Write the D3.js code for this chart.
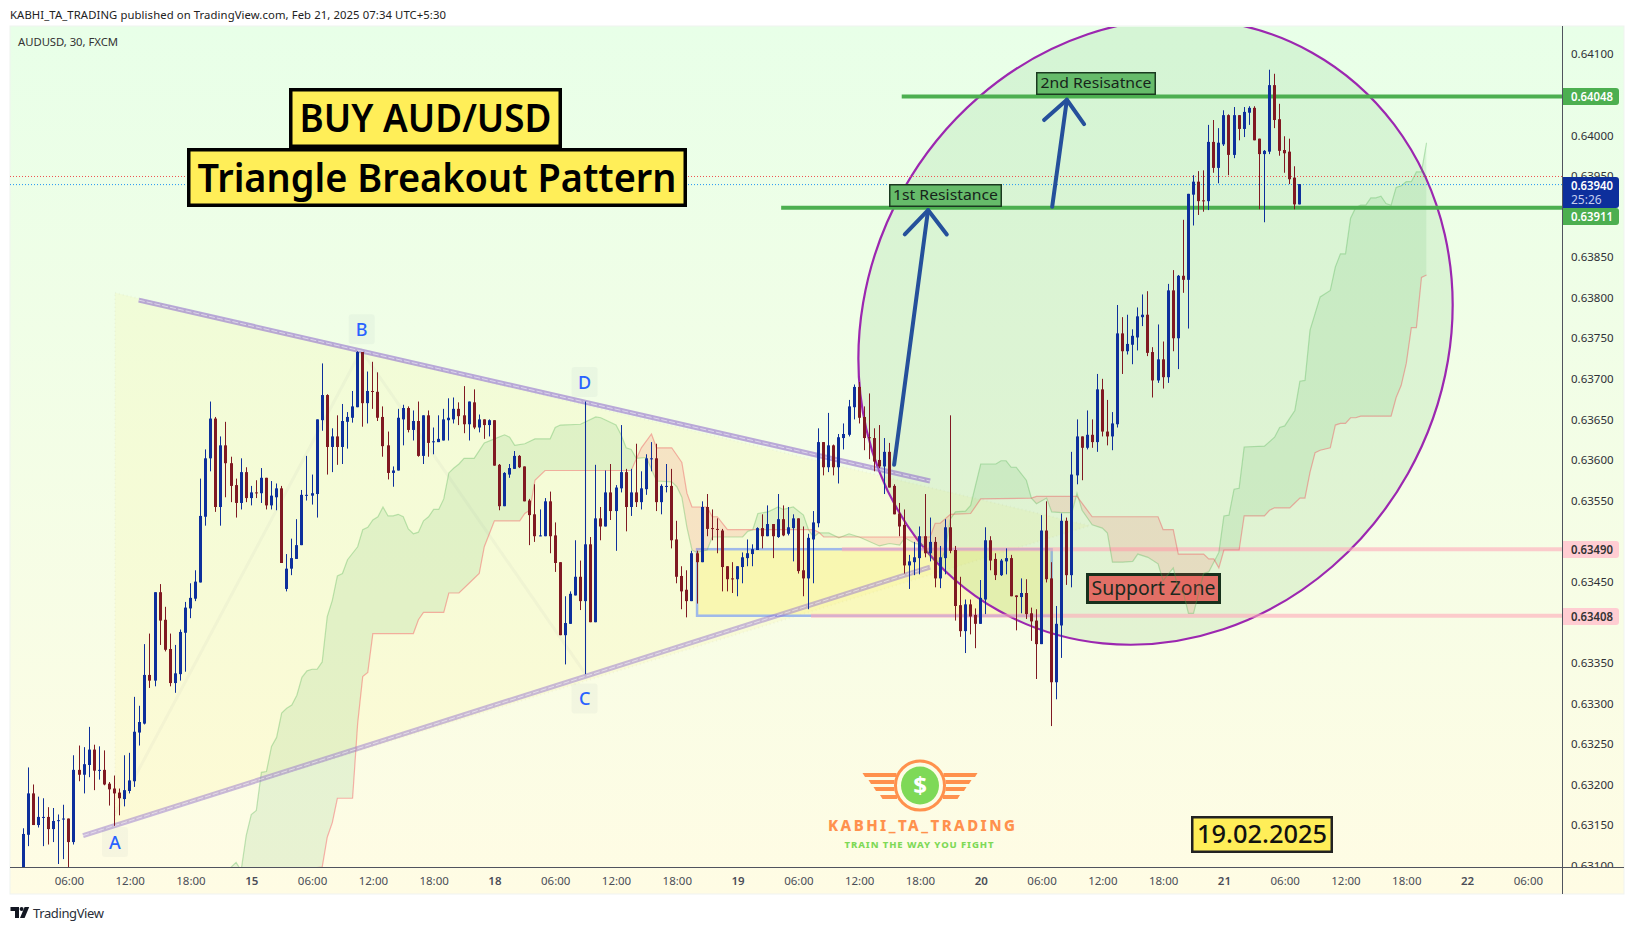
<!DOCTYPE html>
<html><head><meta charset="utf-8">
<style>
html,body{margin:0;padding:0;background:#fff;overflow:hidden}
svg{display:block}
text{font-family:"Noto Sans","Open Sans",sans-serif}
</style>
<script src="https://cdn.jsdelivr.net/npm/d3@7"></script>
</head><body>
<svg id="c" width="1634" height="931"></svg>
<script>
// Prices are in points of 0.00001 (63940 = 0.63940); bars are 30-minute candles numbered from the left.
const opens=[63090,63138,63189,63150,63159,63160,63145,63155,63157,63158,
63129,63218,63212,63224,63243,63217,63218,63201,63195,63190,
63182,63192,63204,63264,63275,63335,63328,63437,63403,63367,
63325,63336,63387,63417,63429,63449,63530,63602,63651,63542,
63618,63596,63569,63547,63585,63553,63560,63559,63578,63544,
63554,63565,63441,63466,63478,63495,63556,63556,63558,63649,
63680,63616,63629,63616,63647,63652,63665,63733,63670,63685,
63684,63653,63618,63584,63587,63650,63664,63637,63648,63605,
63655,63622,63622,63624,63649,63650,63663,63655,63644,63671,
63640,63650,63643,63649,63594,63543,63582,63589,63605,63592,
63550,63533,63506,63506,63549,63507,63474,63384,63398,63433,
63456,63426,63496,63400,63528,63518,63560,63537,63565,63585,
63542,63560,63548,63564,63601,63602,63548,63567,63568,63502,
63457,63440,63426,63485,63474,63542,63516,63515,63513,63469,
63454,63453,63468,63479,63484,63489,63516,63506,63521,63505,
63527,63509,63516,63528,63464,63454,63502,63522,63622,63591,
63618,63591,63627,63631,63665,63690,63653,63628,63627,63600,
63592,63610,63568,63534,63520,63470,63474,63479,63506,63485,
63499,63454,63479,63517,63489,63421,63389,63422,63409,63398,
63428,63501,63478,63458,63475,63479,63433,63431,63436,63411,
63402,63373,63513,63454,63326,63396,63525,63458,63581,63629,
63615,63631,63622,63687,63635,63629,63644,63756,63734,63742,
63751,63776,63779,63733,63698,63724,63702,63809,63750,63827,
63822,63927,63943,63920,63919,63992,63960,63989,64025,63976,
64025,64008,64028,64034,63996,63977,63980,64062,64020,63982,
63980,63948,63915];
const highs=[63146,63221,63200,63185,63183,63172,63171,63163,63175,63158,
63236,63248,63246,63271,63249,63247,63242,63203,63211,63195,
63236,63239,63308,63297,63373,63386,63437,63447,63419,63386,
63372,63391,63425,63448,63464,63577,63613,63672,63653,63629,
63647,63604,63577,63602,63591,63568,63575,63590,63578,63574,
63571,63568,63484,63503,63527,63563,63605,63582,63650,63719,
63681,63639,63655,63669,63659,63685,63734,63733,63709,63721,
63708,63666,63635,63592,63663,63668,63666,63661,63672,63655,
63661,63640,63655,63663,63676,63677,63671,63691,63672,63687,
63656,63650,63650,63649,63595,63585,63595,63611,63606,63592,
63552,63570,63539,63553,63561,63523,63474,63432,63438,63501,
63476,63672,63505,63594,63542,63587,63595,63569,63643,63589,
63589,63620,63586,63607,63622,63620,63570,63595,63589,63525,
63469,63464,63488,63488,63549,63558,63539,63528,63515,63469,
63474,63469,63486,63502,63496,63517,63533,63544,63521,63558,
63544,63542,63533,63528,63518,63509,63537,63639,63622,63658,
63619,63632,63645,63674,63693,63696,63666,63682,63639,63643,
63627,63621,63570,63547,63539,63483,63499,63518,63558,63529,
63505,63494,63527,63655,63494,63456,63428,63428,63417,63452,
63517,63506,63485,63478,63491,63483,63433,63454,63453,63418,
63416,63532,63549,63474,63420,63534,63529,63610,63650,63629,
63661,63650,63706,63700,63674,63659,63791,63776,63779,63761,
63788,63804,63808,63739,63767,63746,63817,63834,63828,63896,
63928,63951,63956,63957,64013,64019,64009,64031,64026,64035,
64025,64035,64036,64036,63996,63982,64081,64076,64039,63999,
63996,63962,63940];
const lows=[63080,63124,63150,63147,63124,63126,63129,63102,63108,63094,
63126,63204,63189,63209,63193,63206,63199,63174,63149,63162,
63173,63189,63197,63248,63274,63319,63321,63372,63364,63321,
63313,63328,63339,63405,63426,63449,63519,63586,63536,63519,
63554,63548,63529,63539,63548,63544,63553,63547,63539,63539,
63538,63473,63438,63458,63478,63495,63550,63545,63529,63636,
63582,63585,63594,63595,63614,63646,63665,63641,63645,63663,
63648,63604,63576,63567,63587,63618,63634,63624,63604,63595,
63604,63607,63622,63624,63624,63645,63643,63633,63624,63638,
63634,63626,63629,63593,63538,63543,63578,63589,63590,63549,
63495,63499,63506,63506,63485,63462,63384,63348,63398,63433,
63415,63336,63400,63400,63501,63518,63526,63488,63560,63512,
63531,63542,63539,63557,63586,63537,63533,63560,63491,63448,
63416,63406,63426,63423,63474,63506,63501,63485,63438,63438,
63436,63432,63448,63469,63469,63489,63491,63506,63479,63504,
63506,63507,63475,63460,63432,63416,63448,63517,63581,63585,
63581,63571,63613,63629,63650,63645,63612,63601,63586,63590,
63558,63566,63533,63506,63460,63441,63458,63459,63480,63475,
63443,63442,63459,63485,63402,63382,63362,63385,63368,63398,
63410,63464,63452,63457,63459,63432,63390,63411,63404,63377,
63330,63373,63449,63272,63305,63356,63446,63443,63570,63575,
63613,63615,63610,63629,63618,63612,63640,63706,63730,63718,
63735,63765,63728,63677,63695,63688,63695,63734,63712,63806,
63762,63889,63902,63906,63908,63954,63941,63987,63951,63972,
63994,63998,64013,63994,63909,63893,63977,64009,63975,63954,
63940,63909,63915];
const closes=[63139,63189,63150,63160,63160,63145,63155,63156,63158,63129,
63218,63212,63225,63243,63217,63218,63200,63194,63189,63183,
63193,63205,63265,63277,63335,63328,63437,63402,63366,63325,
63337,63388,63418,63430,63450,63531,63602,63651,63542,63618,
63596,63568,63547,63585,63553,63560,63559,63578,63544,63556,
63565,63473,63466,63479,63495,63557,63557,63559,63650,63680,
63616,63629,63616,63648,63653,63666,63733,63670,63685,63684,
63652,63617,63584,63587,63652,63664,63637,63648,63605,63655,
63621,63623,63626,63650,63652,63663,63654,63644,63672,63640,
63650,63643,63649,63593,63543,63584,63590,63605,63591,63549,
63532,63506,63507,63549,63506,63473,63384,63399,63435,63456,
63426,63496,63400,63528,63518,63560,63537,63566,63585,63542,
63560,63548,63565,63602,63602,63548,63568,63568,63501,63456,
63438,63426,63485,63474,63542,63515,63515,63514,63468,63453,
63453,63469,63480,63485,63490,63516,63506,63521,63506,63527,
63507,63517,63528,63463,63454,63504,63523,63622,63591,63618,
63591,63628,63632,63666,63690,63652,63627,63627,63598,63592,
63610,63566,63533,63518,63470,63475,63480,63506,63485,63499,
63454,63480,63517,63488,63420,63389,63422,63407,63398,63430,
63501,63476,63458,63476,63479,63432,63431,63436,63410,63401,
63373,63513,63453,63326,63398,63525,63458,63582,63629,63615,
63631,63622,63687,63635,63629,63645,63756,63734,63743,63753,
63777,63779,63732,63698,63724,63702,63809,63750,63827,63822,
63928,63943,63919,63919,63992,63960,63991,64025,63976,64025,
64008,64029,64034,63994,63977,63981,64062,64019,63981,63978,
63946,63915,63940];

// Ichimoku-style cloud spans: bar number / price pairs
const spanABars=[41,42,43,44,45,46,47,48,49,50,51,52,53,54,55,56,57,58,59,60,61,62,63,64,65,66,67,68,69,70,71,72,73,74,75,76,77,78,79,80,81,82,83,84,85,86,87,89,91,93,95,96,97,99,101,102,104,105,106,110,113,114,117,118,119,120,121,123,125,128,129,130,131,132,133,135,136,142,143,144,145,147,149,150,152,154,155,156,157,159,161,163,165,169,171,173,174,176,178,179,181,182,183,184,186,187,189,192,193,194,195,196,198,199,200,202,203,205,207,208,209,211,213,214,215,217,219,220,222,224,225,227,228,229,230,231,233,234,236,237,238,239,240,241,245,247,248,249,251,252,253,254,256,258,259,260,261,262,263,264,265,266,267,268,269,270,271,272,273,274,275,276,277];
const spanAPrices=[63098,63104,63094,63137,63163,63168,63215,63216,63247,63258,63288,63294,63298,63310,63332,63340,63342,63342,63351,63407,63427,63457,63460,63477,63485,63493,63514,63517,63526,63530,63542,63531,63531,63533,63530,63515,63509,63511,63525,63530,63539,63539,63552,63584,63590,63595,63602,63602,63621,63626,63631,63628,63618,63620,63626,63626,63626,63640,63643,63644,63653,63652,63643,63631,63615,63613,63602,63603,63574,63573,63567,63554,63517,63489,63486,63489,63505,63505,63512,63514,63534,63536,63542,63539,63542,63532,63514,63505,63510,63510,63504,63509,63505,63494,63497,63495,63504,63497,63495,63480,63474,63489,63527,63536,63537,63544,63595,63595,63599,63599,63591,63591,63575,63553,63546,63553,63536,63535,63535,63559,63538,63520,63516,63510,63474,63474,63475,63484,63480,63472,63451,63467,63440,63436,63411,63411,63460,63462,63486,63531,63532,63564,63565,63616,63617,63628,63640,63642,63661,63697,63698,63760,63801,63809,63838,63854,63854,63898,63911,63914,63914,63923,63923,63925,63916,63914,63936,63938,63943,63943,63955,63955,63991];
const spanBBars=[41,59,60,61,62,65,66,67,68,69,77,78,79,83,84,86,88,90,91,93,98,99,100,101,103,120,122,124,125,128,130,131,132,135,136,137,139,156,157,158,179,180,181,183,187,189,199,200,208,211,224,225,227,228,233,234,235,236,237,240,241,245,246,247,250,251,252,253,254,255,256,258,259,260,261,262,263,264,270,271,272,273,274,275,276,277];
const spanBPrices=[63090,63098,63135,63153,63183,63183,63275,63333,63338,63386,63386,63403,63412,63412,63436,63436,63448,63460,63493,63525,63525,63534,63538,63575,63587,63587,63615,63632,63615,63615,63597,63559,63542,63542,63530,63530,63514,63514,63511,63505,63505,63522,63522,63533,63534,63552,63553,63555,63555,63530,63530,63514,63514,63484,63484,63478,63478,63467,63489,63489,63531,63531,63538,63541,63541,63547,63553,63553,63585,63609,63612,63615,63643,63645,63645,63652,63652,63654,63654,63677,63692,63719,63763,63763,63825,63828];

// Axis labels (levels under a price tag are not shown)
const priceTicks=[63100,63150,63200,63250,63300,63350,63450,63550,63600,63650,63700,63750,63800,63850,63950,64000,64100];
const timeTickBars=[9,21,33,45,57,69,81,93,105,117,129,141,153,165,177,189,201,213,225,237,249,261,273,285,297];
const timeTickLabels=["06:00","12:00","18:00","15","06:00","12:00","18:00","18","06:00","12:00","18:00","19","06:00","12:00","18:00","20","06:00","12:00","18:00","21","06:00","12:00","18:00","22","06:00"];

// Drawn levels: price / first bar
const greenLevels=[64048,63911];
const greenLevelStart=[173.4,149.6];
const pinkLevels=[63490,63408];
const pinkLevelStart=[161.6,155.5];
const lastPrice=63940, prePrice=63950;
// Trend lines: [bar, price] end points
const upperTrend=[[22.8,63797],[179,63574]];
const lowerTrend=[[11.8,63137],[179,63468]];
const triangleZone=[[18.1,63806],[210.5,63519],[18.1,63149]];
const abcdPath=[[18,63162],[66.7,63735],[111,63336],[111,63672]];
const abcdLetters=["A","B","C","D"];
const abcdLetterBars=[18.1,66.8,110.8,110.8];
const abcdLetterPrices=[63129,63761,63306,63696];
const arrowShafts=[[[171.9,63594],[178.6,63908]],[[203.1,63912],[206,64044]]];
const arrowHeads=[[[174,63878],[178.6,63908],[182.3,63878]],[[201.5,64019],[206,64044],[209.4,64014]]];
const zoneBars=[133,203];
const ellipseCentre=[223.5,63758];

const W=1634,H=931;
const paneL=10,paneR=1562,paneT=27,paneB=867,outerR=1624,outerB=894;
const x=d3.scaleLinear().domain([0,252]).range([23.3,1299.9]);
const y=d3.scaleLinear().domain([63100,64100]).range([865.6,54.3]);
const svg=d3.select("#c");
const defs=svg.append("defs");

const grad=defs.append("linearGradient").attr("id","bg").attr("x1",0).attr("y1",0).attr("x2",0).attr("y2",1);
grad.append("stop").attr("offset",0).attr("stop-color","#e8ffe8");
grad.append("stop").attr("offset",1).attr("stop-color","#fffce4");
defs.append("clipPath").attr("id","pane").append("rect").attr("x",paneL).attr("y",paneT).attr("width",paneR-paneL).attr("height",paneB-paneT);
defs.append("clipPath").attr("id","paxis").append("rect").attr("x",paneR).attr("y",paneT).attr("width",outerR-paneR).attr("height",paneB-paneT);

svg.append("rect").attr("width",W).attr("height",H).attr("fill","#fff");
svg.append("rect").attr("x",paneL).attr("y",paneT-1).attr("width",outerR-paneL).attr("height",outerB-paneT+1).attr("fill","url(#bg)").attr("stroke","#f0f3f0");

const P=svg.append("g").attr("clip-path","url(#pane)");
const pt=d=>[x(d[0]),y(d[1])];
const line=d3.line().x(d=>x(d[0])).y(d=>y(d[1]));

// triangle fill + faint pattern
P.append("path").attr("d",line(triangleZone)+"Z").attr("fill","rgba(255,235,59,.085)").attr("stroke","rgba(190,190,170,.12)").attr("stroke-width",2).attr("stroke-dasharray","1 3");
P.append("path").attr("d",line(abcdPath)).attr("fill","none").attr("stroke","rgba(120,123,134,.05)").attr("stroke-width",3);

// zone rectangle
P.append("rect").attr("x",x(zoneBars[0])).attr("y",y(pinkLevels[0])).attr("width",x(zoneBars[1])-x(zoneBars[0])).attr("height",y(pinkLevels[1])-y(pinkLevels[0]))
 .attr("fill","rgba(255,235,59,.24)").attr("stroke","#9fb9ea").attr("stroke-width",2.5);

// circle
const [cx,cy]=pt(ellipseCentre);
P.append("ellipse").attr("rx",289.5).attr("ry",320).attr("transform",`translate(${cx},${cy}) rotate(29.3)`)
 .attr("fill","rgba(76,175,80,.125)").attr("stroke","#9c27b0").attr("stroke-width",2.2);

// pink levels
pinkLevels.forEach((p,k)=>P.append("line").attr("x1",x(pinkLevelStart[k])).attr("x2",paneR).attr("y1",y(p)).attr("y2",y(p)).attr("stroke","rgba(255,170,185,.6)").attr("stroke-width",4));

// Support Zone box beneath the cloud lines
svg.append("rect").attr("x",1087.5).attr("y",574.5).attr("width",132).attr("height",28).attr("fill","#e26f66").attr("stroke","#17301c").attr("stroke-width",3);
svg.append("text").attr("x",1153.5).attr("y",595).attr("text-anchor","middle").attr("font-size",20).attr("fill","#1b2a20").attr("textLength",124).attr("lengthAdjust","spacingAndGlyphs").text("Support Zone");

// Cloud
const G=svg.append("g").attr("clip-path","url(#pane)");
const fA=d3.scaleLinear().domain(spanABars).range(spanAPrices);
const fB=d3.scaleLinear().domain(spanBBars).range(spanBPrices);
const grid=d3.range(41,278);
const cloud=d3.area().x(i=>x(i)).y0(i=>y(fB(i))).y1(i=>y(fA(i)));
defs.append("clipPath").attr("id","aboveB").append("path").attr("d",d3.area().x(i=>x(i)).y0(i=>y(fB(i))).y1(0)(grid));
defs.append("clipPath").attr("id","belowB").append("path").attr("d",d3.area().x(i=>x(i)).y0(i=>y(fB(i))).y1(H)(grid));
G.append("path").attr("d",cloud(grid)).attr("clip-path","url(#aboveB)").attr("fill","rgba(76,175,80,.12)");
G.append("path").attr("d",cloud(grid)).attr("clip-path","url(#belowB)").attr("fill","rgba(255,82,82,.14)");
G.append("path").attr("d",line(spanABars.map((b,k)=>[b,spanAPrices[k]]))).attr("fill","none").attr("stroke","rgba(76,175,80,.33)").attr("stroke-width",1.2);
G.append("path").attr("d",line(spanBBars.map((b,k)=>[b,spanBPrices[k]]))).attr("fill","none").attr("stroke","rgba(242,54,69,.36)").attr("stroke-width",1.2);

// Trend lines
const T=svg.append("g").attr("clip-path","url(#pane)");
[upperTrend,lowerTrend].forEach((t,k)=>{
  T.append("path").attr("d",line(t)).attr("stroke",k?"rgba(149,117,205,.5)":"rgba(149,117,205,.62)").attr("stroke-width",5).attr("fill","none");
  T.append("path").attr("d",line(t)).attr("stroke","rgba(255,255,255,.5)").attr("stroke-width",1).attr("stroke-dasharray","6 2").attr("fill","none");
});

// Dotted price lines
T.append("line").attr("x1",paneL).attr("x2",paneR).attr("y1",y(prePrice)+.5).attr("y2",y(prePrice)+.5).attr("stroke","#ef5350").attr("stroke-dasharray","1 2");
T.append("line").attr("x1",paneL).attr("x2",paneR).attr("y1",y(lastPrice)+.5).attr("y2",y(lastPrice)+.5).attr("stroke","#2196f3").attr("stroke-dasharray","1 2");

// Green levels
greenLevels.forEach((p,k)=>T.append("line").attr("x1",x(greenLevelStart[k])).attr("x2",paneR).attr("y1",y(p)).attr("y2",y(p)).attr("stroke","#4caf50").attr("stroke-width",4));

// Arrows
arrowShafts.forEach(s=>T.append("path").attr("d",line(s)).attr("stroke","#25509b").attr("stroke-width",4).attr("stroke-linecap","round").attr("fill","none"));
arrowHeads.forEach(s=>T.append("path").attr("d",line(s)).attr("stroke","#25509b").attr("stroke-width",4).attr("stroke-linecap","round").attr("stroke-linejoin","round").attr("fill","none"));

// Candles
const BLUE="#0d2f9c",RED="#801922";
const C=svg.append("g").attr("clip-path","url(#pane)");
const bars=d3.range(opens.length);
C.selectAll("rect.w").data(bars).join("rect").attr("class","w")
 .attr("x",i=>Math.floor(x(i))).attr("width",1).attr("y",i=>y(highs[i])).attr("height",i=>y(lows[i])-y(highs[i]))
 .attr("fill",i=>closes[i]>=opens[i]?BLUE:RED);
C.selectAll("rect.b").data(bars).join("rect").attr("class","b")
 .attr("x",i=>Math.floor(x(i))-1).attr("width",3)
 .attr("y",i=>y(Math.max(opens[i],closes[i]))).attr("height",i=>Math.max(1,Math.abs(y(opens[i])-y(closes[i]))))
 .attr("fill",i=>closes[i]>=opens[i]?BLUE:RED);

// ABCD letters
abcdLetters.forEach((l,k)=>{
  const lx=x(abcdLetterBars[k]),ly=y(abcdLetterPrices[k]);
  svg.append("rect").attr("x",lx-13).attr("y",ly-15).attr("width",26).attr("height",30).attr("rx",3).attr("fill","rgba(120,140,160,.06)");
  svg.append("text").attr("x",lx).attr("y",ly+6.5).attr("text-anchor","middle").attr("font-size",18).attr("font-weight",500).attr("fill","#2962ff").text(l);
});

// Label boxes
function box(x0,y0,x1,y1,fill,stroke,sw,label,fs,tl,opts={}){
  svg.append("rect").attr("x",x0+sw/2).attr("y",y0+sw/2).attr("width",x1-x0-sw).attr("height",y1-y0-sw).attr("fill",fill).attr("stroke",stroke).attr("stroke-width",sw);
  const t=svg.append("text").attr("x",(x0+x1)/2).attr("y",(y0+y1)/2+fs*.36).attr("text-anchor","middle").attr("font-size",fs).attr("fill",opts.color||"#000").text(label);
  if(opts.weight)t.attr("font-weight",opts.weight);
  if(tl)t.attr("textLength",tl).attr("lengthAdjust","spacingAndGlyphs");
}
box(289,88,562,148,"#ffee58","#000",3.5,"BUY AUD/USD",39,252,{weight:600});
box(187,148,687,207,"#ffee58","#000",3.5,"Triangle Breakout Pattern",39,479,{weight:600});
box(889,184,1002,207,"#66bb6a","#1b3a20",1.5,"1st Resistance",13.5,105,{color:"#16241a"});
box(1036,72,1156,95,"#66bb6a","#1b3a20",1.5,"2nd Resisatnce",13.5,111,{color:"#16241a"});
box(1191,816,1333,853,"#ffee58","#222",2.5,"19.02.2025",24.5,130,{color:"#111",weight:500});

// Logo
const L=svg.append("g");
const OR="#ff914d",GR="#7ed957";
L.append("circle").attr("cx",920).attr("cy",785.5).attr("r",24.5).attr("fill","none").attr("stroke",OR).attr("stroke-width",3);
L.append("circle").attr("cx",920).attr("cy",785.5).attr("r",19).attr("fill",GR);
L.append("text").attr("x",920).attr("y",794).attr("text-anchor","middle").attr("font-size",24).attr("font-weight",700).attr("fill","#fff").text("$");
[[862.5,773,34],[868.5,780,26],[873.5,787,21],[880,795,17]].forEach(([a,b,w])=>{
  [1,-1].forEach(s=>{
    const m=v=>920+s*(v-920);
    L.append("polygon").attr("fill",OR).attr("points",`${m(a)},${b} ${m(a+w)},${b} ${m(a+w)},${b+4} ${m(a+2.5)},${b+4}`);
  });
});
L.append("text").attr("x",921.5).attr("y",830.5).attr("text-anchor","middle").attr("font-size",15).attr("font-weight",800).attr("fill",OR).attr("textLength",187).text("KABHI_TA_TRADING");
L.append("text").attr("x",919).attr("y",847.5).attr("text-anchor","middle").attr("font-size",9.5).attr("font-weight",800).attr("fill",GR).attr("textLength",149).text("TRAIN THE WAY YOU FIGHT");

// Axes
const priceFmt=p=>(p/1e5).toFixed(5);
const ax=svg.append("g").attr("clip-path","url(#paxis)");
const ya=d3.axisRight(y).tickValues(priceTicks).tickFormat(priceFmt).tickSize(0).tickPadding(9);
ax.append("g").attr("transform",`translate(${paneR},0)`).call(ya).call(g=>{
  g.select(".domain").remove();
  g.selectAll("text").attr("font-size",11.5).attr("fill","#2f3036").style("font-family",'"Noto Sans"');
});
const xa=d3.axisBottom(x).tickValues(timeTickBars).tickFormat((d,k)=>timeTickLabels[k]).tickSize(0).tickPadding(10);
svg.append("g").attr("transform",`translate(0,${paneB})`).call(xa).call(g=>{
  g.select(".domain").remove();
  g.selectAll("text").attr("font-size",11.5).attr("fill","#4a4d57").attr("font-weight",(d,k)=>/:/.test(timeTickLabels[k])?400:600).style("font-family",'"Noto Sans"');
});
svg.append("line").attr("x1",paneL).attr("x2",outerR).attr("y1",paneB+.5).attr("y2",paneB+.5).attr("stroke","#50535e");
svg.append("line").attr("x1",paneR+.5).attr("x2",paneR+.5).attr("y1",paneT-1).attr("y2",outerB).attr("stroke","#50535e");

// Price tags
function tag(p,y0,y1,fill,color,sub){
  const g=svg.append("g");
  g.append("path").attr("d",`M${paneR+1},${y0}H1616a3,3 0 0 1 3,3V${y1-3}a3,3 0 0 1 -3,3H${paneR+1}Z`).attr("fill",fill);
  g.append("text").attr("x",1571).attr("y",y0+12.5).attr("font-size",12).attr("font-weight",600).attr("fill",color).attr("textLength",42).attr("lengthAdjust","spacingAndGlyphs").text(priceFmt(p));
  if(sub)g.append("text").attr("x",1571).attr("y",y0+27).attr("font-size",12).attr("fill","#c5cdf0").text(sub);
}
const tagY=p=>Math.round(y(p))-8;
tag(64048,tagY(64048),tagY(64048)+17,"#4caf50","#fff");
tag(lastPrice,177,208,"#0d2f9c","#fff","25:26");
tag(63911,208,225,"#4caf50","#fff");
tag(63490,tagY(63490),tagY(63490)+17,"#ffcdd2","#333");
tag(63408,tagY(63408),tagY(63408)+17,"#ffcdd2","#333");

// Header / footer text
svg.append("text").attr("x",10).attr("y",19).attr("font-size",11.3).attr("fill","#222").attr("textLength",436).text("KABHI_TA_TRADING published on TradingView.com, Feb 21, 2025 07:34 UTC+5:30");
svg.append("text").attr("x",18).attr("y",46).attr("font-size",11.3).attr("fill","#333").attr("textLength",100).text("AUDUSD, 30, FXCM");
svg.append("path").attr("d","M10.5,907h8.5v11h-4v-7h-4.5z M20,918l4.6,-11h4.6l-4.6,11z").attr("fill","#131722");
svg.append("circle").attr("cx",21.6).attr("cy",909).attr("r",2).attr("fill","#131722");
svg.append("text").attr("x",33).attr("y",917.5).attr("font-size",13).attr("fill","#2a2e39").attr("textLength",71).text("TradingView");
</script>
</body></html>
